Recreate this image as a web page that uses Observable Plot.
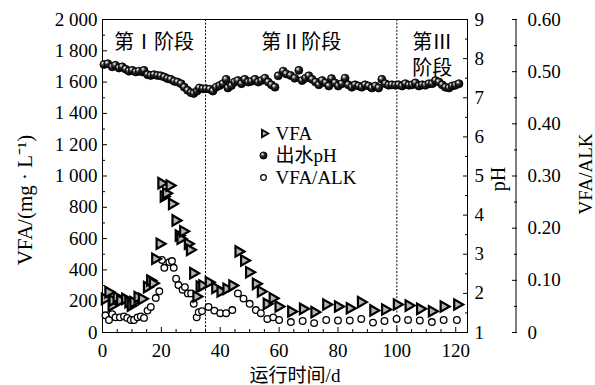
<!DOCTYPE html>
<html><head><meta charset="utf-8">
<script src="https://cdn.jsdelivr.net/npm/d3@7"></script>
<script src="https://cdn.jsdelivr.net/npm/@observablehq/plot@0.6"></script>
<style>body{margin:0;background:#fff}</style>
</head><body><div id="chart"></div>
<script>
// ---- data ----
const vfaDays = [1.0,2.2,3.3,3.6,5.0,6.2,7.9,9.0,9.8,10.7,12.1,13.6,15.3,16.4,17.3,18.1,19.6,20.2,21.0,21.8,23.0,23.8,25.0,26.1,26.7,27.6,29.2,29.9,31.0,32.1,33.2,34.1,36.3,38.5,40.3,42.3,44.3,46.4,48.3,50.0,52.3,54.0,56.0,58.0,60.0,64.3,68.3,72.2,76.2,80.2,84.2,88.0,92.2,96.2,100.2,104.2,108.1,112.1,116.1,120.7];
const vfaValues = [215,258,172,204,226,204,215,194,172,194,226,215,290,332,315,471,567,954,869,890,939,822,716,620,599,647,567,528,379,230,294,300,321,285,262,279,300,518,460,385,311,262,183,219,166,134,151,130,179,166,155,194,141,147,179,172,151,136,166,179];

const phDays = [0.5,1.8,3.3,4.4,5.6,6.7,7.9,9.0,10.1,11.3,12.4,13.6,14.1,15.3,16.4,17.5,18.7,19.8,21.0,22.1,23.2,24.4,25.5,26.7,27.8,28.9,30.1,31.0,32.1,32.9,34.1,35.2,36.4,37.5,38.6,39.8,40.9,42.0,42.6,43.8,44.9,46.0,47.2,48.3,49.5,50.6,51.8,52.9,54.0,55.2,56.3,57.4,58.6,59.7,61.4,
  62.4,63.9,65.3,66.7,67.8,69.0,70.1,71.2,72.4,73.5,74.6,75.8,76.9,77.8,79.0,80.1,81.3,82.4,83.5,84.7,85.8,87.0,88.1,89.2,90.4,91.5,92.7,93.8,94.9,96.1,97.2,98.3,99.5,100.6,101.8,102.9,104.1,105.2,106.3,107.5,108.6,109.7,110.9,112.0,113.1,114.3,115.4,116.5,117.7,118.8,119.9,121.1];
const phValues = [7.85,7.87,7.79,7.83,7.76,7.79,7.73,7.68,7.70,7.66,7.68,7.66,7.70,7.59,7.57,7.59,7.57,7.56,7.53,7.49,7.47,7.42,7.40,7.36,7.27,7.19,7.13,7.11,7.17,7.25,7.23,7.23,7.22,7.17,7.27,7.31,7.36,7.47,7.25,7.31,7.40,7.44,7.36,7.47,7.40,7.42,7.47,7.40,7.44,7.50,7.40,7.33,7.27,7.56,7.68,
  7.61,7.57,7.50,7.70,7.44,7.50,7.56,7.47,7.40,7.33,7.44,7.38,7.30,7.49,7.38,7.30,7.36,7.50,7.33,7.27,7.33,7.30,7.27,7.33,7.30,7.25,7.30,7.25,7.47,7.36,7.32,7.33,7.32,7.33,7.30,7.36,7.32,7.33,7.38,7.30,7.33,7.32,7.36,7.36,7.44,7.40,7.33,7.27,7.25,7.30,7.32,7.36];

const ratioDays = [1.0,2.2,3.3,4.4,5.9,7.3,8.4,9.6,10.7,11.9,13.0,14.1,15.3,16.4,18.1,19.3,20.2,21.0,22.7,23.6,24.2,25.0,25.8,27.2,28.0,29.0,30.1,31.0,32.0,32.7,33.8,36.0,38.0,40.0,42.0,44.1,46.0,47.9,50.0,52.1,53.8,56.0,58.0,60.0,64.0,68.0,71.9,76.0,80.0,84.0,87.9,91.9,95.8,99.9,103.8,107.8,111.9,115.9,120.4];
const ratioValues = [0.033,0.024,0.035,0.029,0.029,0.031,0.028,0.024,0.024,0.029,0.031,0.028,0.042,0.049,0.066,0.079,0.139,0.124,0.135,0.137,0.124,0.103,0.091,0.082,0.087,0.075,0.075,0.055,0.029,0.039,0.041,0.049,0.042,0.037,0.037,0.043,0.075,0.065,0.055,0.043,0.037,0.026,0.029,0.024,0.020,0.022,0.018,0.024,0.023,0.023,0.026,0.019,0.022,0.026,0.024,0.023,0.020,0.024,0.024];

const stageBounds = [35, 100];
const stageNames = ["第Ⅰ阶段", "第Ⅱ阶段", "第Ⅲ\n阶段"];
const xTicks = [0, 20, 40, 60, 80, 100, 120];
const yTicks = [0, 200, 400, 600, 800, 1000, 1200, 1400, 1600, 1800, 2000];
const phTicks = [1, 2, 3, 4, 5, 6, 7, 8, 9];
const ratioTicks = [0, 0.1, 0.2, 0.3, 0.4, 0.5, 0.6];
const legendNames = ["VFA", "出水pH", "VFA/ALK"];
const xTitle = "运行时间/d";
const yTitle = "VFA/(mg · L⁻¹)";
const phTitle = "pH";
const ratioTitle = "VFA/ALK";

// ---- scale helpers ----
const xMax = 124, yMax = 2000, phMin = 1, phMax = 9, rMax = 0.6;
const fromPH = p => (p - phMin) / (phMax - phMin) * yMax;
const fromR = r => r / rMax * yMax;
const toPH = v => v / yMax * (phMax - phMin) + phMin;
const toR = v => v / yMax * rMax;

const vfaData = vfaDays.map((d, i) => ({day: d, v: vfaValues[i]}));
const phData = phDays.map((d, i) => ({day: d, ph: phValues[i]}));
const ratioData = ratioDays.map((d, i) => ({day: d, r: ratioValues[i]}));
const edges = [0, ...stageBounds, xMax];
const stages = stageNames.map((s, i) => ({label: s, mid: (edges[i] + edges[i + 1]) / 2}));

const xMinor = d3.range(0, 121, 5).filter(v => !xTicks.includes(v));
const yMinor = d3.range(100, 2000, 200);
const phMinor = d3.range(1.5, 9, 1).map(fromPH);
const rMinor = d3.range(0.05, 0.6, 0.1).map(fromR);

const triRight = {draw(ctx, size) {
  const a = Math.sqrt(size / Math.PI);
  ctx.moveTo(1.2 * a, 0); ctx.lineTo(-0.8 * a, 1.15 * a); ctx.lineTo(-0.8 * a, -1.15 * a); ctx.closePath();
}};

const font = "'Liberation Serif','Times New Roman','Noto Sans CJK SC',serif";
const BALL = "#010101";
const ff = {fontFamily: font};

const legendRows = [
  {name: legendNames[0], dy: 114},
  {name: legendNames[1], dy: 136},
  {name: legendNames[2], dy: 158}
];

const chart = Plot.plot({
  width: 595, height: 385,
  marginLeft: 102, marginRight: 128, marginTop: 19, marginBottom: 53,
  style: {fontFamily: font, fontSize: "19px", background: "white", color: "black"},
  x: {domain: [0, xMax]},
  y: {domain: [0, yMax]},
  marks: [
    Plot.ruleX(stageBounds, {stroke: "black", strokeDasharray: "2,1.6", strokeWidth: 1}),
    Plot.frame({stroke: "black", strokeWidth: 1}),
    Plot.axisX(xTicks, {...ff, fontSize: 19, anchor: "bottom", tickSize: -5, tickPadding: 16, label: null}),
    Plot.axisX(xMinor, {anchor: "bottom", tickSize: -3, tickFormat: () => "", label: null}),
    Plot.axisY(yTicks, {...ff, fontSize: 19, anchor: "left", tickSize: -5, tickPadding: 10, label: null,
      tickFormat: v => v >= 1000 ? `${Math.floor(v / 1000)} ${String(v % 1000).padStart(3, "0")}` : String(v)}),
    Plot.axisY(yMinor, {anchor: "left", tickSize: -3, tickFormat: () => "", label: null}),
    Plot.axisY(phTicks.map(fromPH), {...ff, fontSize: 19, anchor: "right", tickSize: -5, tickPadding: 12, label: null,
      tickFormat: v => String(Math.round(toPH(v)))}),
    Plot.axisY(phMinor, {anchor: "right", tickSize: -3, tickFormat: () => "", label: null}),
    Plot.axisY(ratioTicks.map(fromR), {...ff, fontSize: 19, anchor: "right", dx: 49, tickSize: -5, tickPadding: 16, label: null,
      tickFormat: v => { const r = toR(v); return r < 1e-9 ? "0" : r.toFixed(2); }}),
    Plot.axisY(rMinor, {anchor: "right", dx: 49, tickSize: -3, tickFormat: () => "", label: null}),

    Plot.dot(ratioData, {x: "day", y: d => fromR(d.r), r: 3.3, fill: "white", stroke: "black", strokeWidth: 1.3}),
    Plot.dot(vfaData, {x: "day", y: "v", symbol: triRight, r: 4.5, fill: "#b4b4b4", stroke: "black", strokeWidth: 2.2}),
    Plot.dot(phData, {x: "day", y: d => fromPH(d.ph), r: 4, fill: BALL, stroke: "black", strokeWidth: 0.8}),

    Plot.text(stages, {...ff, x: "mid", text: "label", frameAnchor: "top", dy: 11, lineAnchor: "top", lineHeight: 1.3, fontSize: 20}),

    // legend
    Plot.dot([legendNames[0]], {frameAnchor: "top-left", dx: 162, dy: 114, symbol: triRight, r: 3.2, fill: "#b4b4b4", stroke: "black", strokeWidth: 1.8}),
    Plot.dot([legendNames[1]], {frameAnchor: "top-left", dx: 161, dy: 136, r: 3.6, fill: BALL, stroke: "black", strokeWidth: 0.8}),
    Plot.dot([legendNames[2]], {frameAnchor: "top-left", dx: 161, dy: 158, r: 2.8, fill: "white", stroke: "black", strokeWidth: 1.2}),
    ...legendRows.map(row => Plot.text([row.name], {...ff, frameAnchor: "top-left", dx: 173, dy: row.dy, textAnchor: "start", lineAnchor: "middle", fontSize: 19})),

    // titles
    Plot.text([xTitle], {...ff, frameAnchor: "bottom", dx: 10, dy: 43, lineAnchor: "middle", textAnchor: "middle", fontSize: 19}),
    Plot.text([yTitle], {...ff, frameAnchor: "left", dx: -77, dy: 24, rotate: -90, lineAnchor: "middle", textAnchor: "middle", fontSize: 21}),
    Plot.text([phTitle], {...ff, frameAnchor: "right", dx: 31, dy: 3, rotate: -90, lineAnchor: "middle", textAnchor: "middle", fontSize: 20}),
    Plot.text([ratioTitle], {...ff, frameAnchor: "right", dx: 118, dy: -2, rotate: -90, lineAnchor: "middle", textAnchor: "middle", fontSize: 19})
  ]
});

// sphere gradient for the pH balls
const svg = d3.select(chart);
const defs = svg.insert("defs", ":first-child");
const g = defs.append("radialGradient").attr("id", "ball").attr("cx", "0.42").attr("cy", "0.4").attr("r", "0.6").attr("fx", "0.33").attr("fy", "0.3");
g.append("stop").attr("offset", "0%").attr("stop-color", "#ffffff");
g.append("stop").attr("offset", "18%").attr("stop-color", "#b0b0b0");
g.append("stop").attr("offset", "45%").attr("stop-color", "#2a2a2a");
g.append("stop").attr("offset", "100%").attr("stop-color", "#000000");
svg.selectAll(`[fill="${BALL}"]`).attr("fill", "url(#ball)");

// third axis line (VFA/ALK)
const xs = chart.scale("x"), ys = chart.scale("y");
const axX = xs.range[1] + 49;
svg.append("line").attr("x1", axX).attr("x2", axX).attr("y1", ys.apply(0)).attr("y2", ys.apply(yMax)).attr("stroke", "black").attr("stroke-width", 1);

document.getElementById("chart").appendChild(chart);
</script>
</body></html>
